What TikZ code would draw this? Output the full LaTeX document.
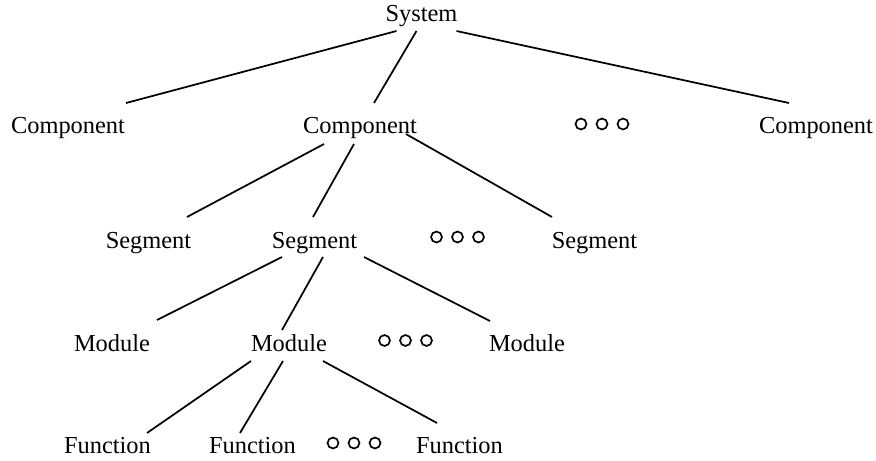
\documentclass[tikz,border=0pt]{standalone}
\usepackage{fontspec}
\setmainfont{Liberation Serif}
\usepackage{tikz}
\usetikzlibrary{
  positioning
}
\tikzset{
  x=0.75pt,
  y=-0.75pt,
  level/.style={anchor=base, inner sep=0pt, font=\fontsize{18.3}{22}\selectfont},
  ring/.style={draw, circle, line width=1.25pt, inner sep=0pt, minimum size=8.2pt},
  every path/.style={line width=1.3pt}
}

\begin{document}
\begin{tikzpicture}
    \useasboundingbox (0,0) rectangle (876,461);

    \node[level] (sys) at (421.5,21) {System};

    \node[level] (compA) at (68,133) {Component};
    \node[level] (compB) at (360,133) {Component};
    \node[level] (compD) at (816,133) {Component};

    \node[level] (segA) at (148.5,248) {Segment};
    \node[level] (segB) at (314.5,248) {Segment};
    \node[level] (segD) at (594.5,248) {Segment};

    \node[level] (modA) at (112,351) {Module};
    \node[level] (modB) at (289,351) {Module};
    \node[level] (modD) at (527,351) {Module};

    \node[level] (funA) at (107.5,453) {Function};
    \node[level] (funB) at (252.5,453) {Function};
    \node[level] (funD) at (459.5,453) {Function};

    % the three rings between siblings
    \foreach \n/\x/\y in {comp/602/124, seg/457.5/237, mod/405.5/340.5, fun/354/443}
      \foreach \k/\d in {1/-21, 2/0, 3/21}
        \node[ring] (\n more\k) at (\x+\d,\y) {};

    \draw ([shift={(-25,10)}]sys.base) -- ([shift={(58,-30)}]compA.base);
    \draw ([shift={(-5,10)}]sys.base) -- ([shift={(14,-30)}]compB.base);
    \draw ([shift={(35,10)}]sys.base) -- ([shift={(-27,-30)}]compD.base);

    \draw ([shift={(-36,11)}]compB.base) -- ([shift={(38.5,-31)}]segA.base);
    \draw ([shift={(-6,11)}]compB.base) -- ([shift={(-1.5,-31)}]segB.base);
    \draw ([shift={(46,1)}]compB.base) -- ([shift={(-42.5,-31)}]segD.base);

    \draw ([shift={(-32.5,9)}]segB.base) -- ([shift={(45,-31)}]modA.base);
    \draw ([shift={(8.5,9)}]segB.base) -- ([shift={(-7,-21)}]modB.base);
    \draw ([shift={(49.5,9)}]segB.base) -- ([shift={(-37,-30)}]modD.base);

    \draw ([shift={(-38,10)}]modB.base) -- ([shift={(39.5,-20)}]funA.base);
    \draw ([shift={(-6,10)}]modB.base) -- ([shift={(-12.5,-20)}]funB.base);
    \draw ([shift={(34,10)}]modB.base) -- ([shift={(-22.5,-30)}]funD.base);
\end{tikzpicture}
\end{document}
